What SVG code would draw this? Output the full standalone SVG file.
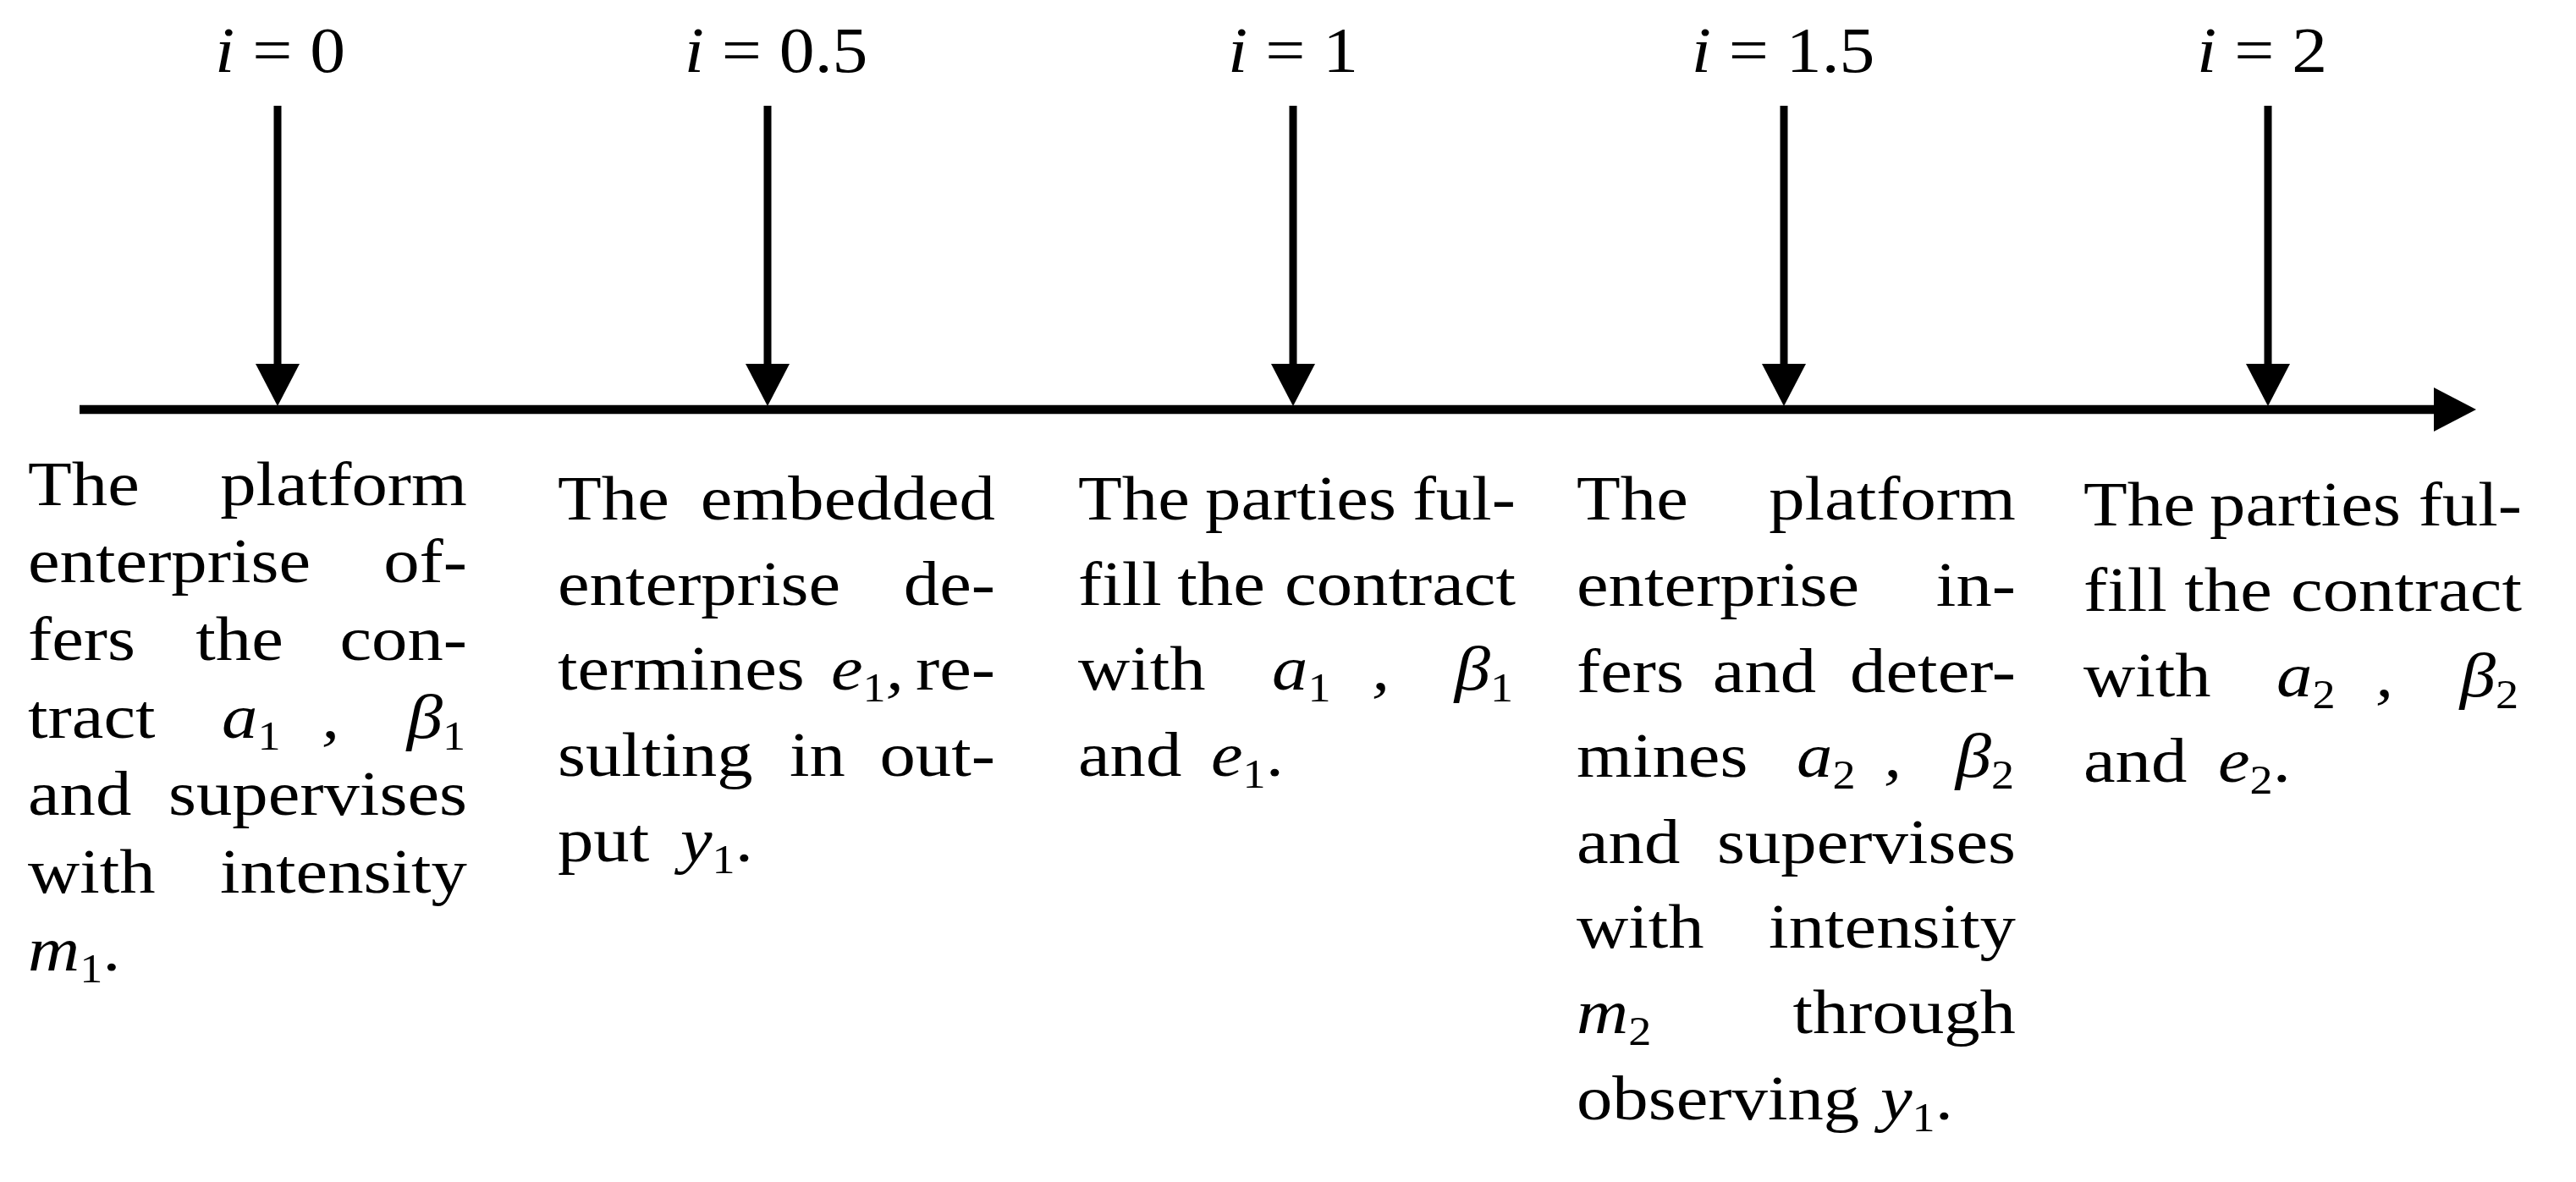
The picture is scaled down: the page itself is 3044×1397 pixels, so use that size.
<svg xmlns="http://www.w3.org/2000/svg" width="3044" height="1397" viewBox="0 0 3044 1397">
<style>
.w{font-family:"Liberation Serif","Times New Roman",serif;font-size:75px;fill:#000}
.lab{font-family:"Liberation Serif","Times New Roman",serif;font-size:76px;fill:#000;text-anchor:middle}
.e{text-anchor:end}
.m{text-anchor:middle}
.it{font-style:italic}
.sb{font-size:48px;font-style:normal}
.ln{stroke:#000;fill:none}
</style>
<defs>
<marker id="ah" viewBox="0 0 50 52" refX="0" refY="26" markerWidth="50" markerHeight="52" markerUnits="userSpaceOnUse" orient="auto">
<path d="M0,0 L50,26 L0,52 Z" fill="#000"/>
</marker>
</defs>
<rect width="3044" height="1397" fill="#fff"/>

<g id="connectors">
<line class="ln" x1="94" y1="484" x2="2876" y2="484" stroke-width="10.5" marker-end="url(#ah)"/>
<line class="ln" x1="328" y1="125" x2="328" y2="430" stroke-width="9" marker-end="url(#ah)"/>
<line class="ln" x1="907" y1="125" x2="907" y2="430" stroke-width="9" marker-end="url(#ah)"/>
<line class="ln" x1="1528" y1="125" x2="1528" y2="430" stroke-width="9" marker-end="url(#ah)"/>
<line class="ln" x1="2108" y1="125" x2="2108" y2="430" stroke-width="9" marker-end="url(#ah)"/>
<line class="ln" x1="2680" y1="125" x2="2680" y2="430" stroke-width="9" marker-end="url(#ah)"/>
</g>

<g id="node-i0">
<text class="lab" transform="translate(331 85) scale(1.1 1)"><tspan class="it">i</tspan> = 0</text>
<text class="w" transform="translate(33 597) scale(1.13 1)">The</text>
<text class="w e" transform="translate(552 597) scale(1.13 1)">platform</text>
<text class="w" transform="translate(33 688) scale(1.13 1)">enterprise</text>
<text class="w e" transform="translate(552 688) scale(1.13 1)">of-</text>
<text class="w" transform="translate(33 780) scale(1.13 1)">fers</text>
<text class="w m" transform="translate(283 780) scale(1.13 1)">the</text>
<text class="w e" transform="translate(552 780) scale(1.13 1)">con-</text>
<text class="w" transform="translate(33 872) scale(1.13 1)">tract</text>
<text class="w" transform="translate(262 872) scale(1.13 1)"><tspan class="it">a</tspan><tspan class="sb" dy="14">1</tspan></text>
<text class="w it" transform="translate(380 872) scale(1.13 1)">,</text>
<text class="w e" transform="translate(550 872) scale(1.13 1)"><tspan class="it">β</tspan><tspan class="sb" dy="14">1</tspan></text>
<text class="w" transform="translate(33 963) scale(1.13 1)">and</text>
<text class="w e" transform="translate(552 963) scale(1.13 1)">supervises</text>
<text class="w" transform="translate(33 1055) scale(1.13 1)">with</text>
<text class="w e" transform="translate(552 1055) scale(1.13 1)">intensity</text>
<text class="w" transform="translate(33 1147) scale(1.13 1)"><tspan class="it">m</tspan><tspan class="sb" dy="14">1</tspan><tspan dy="-14">.</tspan></text>
</g>

<g id="node-i05">
<text class="lab" transform="translate(917 85) scale(1.1 1)"><tspan class="it">i</tspan> = 0.5</text>
<text class="w" transform="translate(659 614) scale(1.13 1)">The</text>
<text class="w e" transform="translate(1176 614) scale(1.13 1)">embedded</text>
<text class="w" transform="translate(659 715) scale(1.13 1)">enterprise</text>
<text class="w e" transform="translate(1176 715) scale(1.13 1)">de-</text>
<text class="w" transform="translate(659 815) scale(1.13 1)">termines</text>
<text class="w" transform="translate(982 815) scale(1.13 1)"><tspan class="it">e</tspan><tspan class="sb" dy="14">1</tspan><tspan class="it" dy="-14">,</tspan></text>
<text class="w e" transform="translate(1176 815) scale(1.13 1)">re-</text>
<text class="w" transform="translate(659 917) scale(1.13 1)">sulting</text>
<text class="w m" transform="translate(966 917) scale(1.13 1)">in</text>
<text class="w e" transform="translate(1176 917) scale(1.13 1)">out-</text>
<text class="w" transform="translate(659 1018) scale(1.13 1)">put</text>
<text class="w" transform="translate(804 1018) scale(1.13 1)"><tspan class="it">y</tspan><tspan class="sb" dy="14">1</tspan><tspan dy="-14">.</tspan></text>
</g>

<g id="node-i1">
<text class="lab" transform="translate(1528 85) scale(1.1 1)"><tspan class="it">i</tspan> = 1</text>
<text class="w" transform="translate(1274 614) scale(1.13 1)">The</text>
<text class="w m" transform="translate(1537 614) scale(1.13 1)">parties</text>
<text class="w e" transform="translate(1791 614) scale(1.13 1)">ful-</text>
<text class="w" transform="translate(1274 715) scale(1.13 1)">fill</text>
<text class="w m" transform="translate(1443 715) scale(1.13 1)">the</text>
<text class="w e" transform="translate(1791 715) scale(1.13 1)">contract</text>
<text class="w" transform="translate(1274 815) scale(1.13 1)">with</text>
<text class="w" transform="translate(1503 815) scale(1.13 1)"><tspan class="it">a</tspan><tspan class="sb" dy="14">1</tspan></text>
<text class="w it" transform="translate(1621 815) scale(1.13 1)">,</text>
<text class="w e" transform="translate(1788 815) scale(1.13 1)"><tspan class="it">β</tspan><tspan class="sb" dy="14">1</tspan></text>
<text class="w" transform="translate(1274 917) scale(1.13 1)">and</text>
<text class="w" transform="translate(1431 917) scale(1.13 1)"><tspan class="it">e</tspan><tspan class="sb" dy="14">1</tspan><tspan dy="-14">.</tspan></text>
</g>

<g id="node-i15">
<text class="lab" transform="translate(2107 85) scale(1.1 1)"><tspan class="it">i</tspan> = 1.5</text>
<text class="w" transform="translate(1863 614) scale(1.13 1)">The</text>
<text class="w e" transform="translate(2382 614) scale(1.13 1)">platform</text>
<text class="w" transform="translate(1863 716) scale(1.13 1)">enterprise</text>
<text class="w e" transform="translate(2382 716) scale(1.13 1)">in-</text>
<text class="w" transform="translate(1863 818) scale(1.13 1)">fers</text>
<text class="w m" transform="translate(2085 818) scale(1.13 1)">and</text>
<text class="w e" transform="translate(2382 818) scale(1.13 1)">deter-</text>
<text class="w" transform="translate(1863 918) scale(1.13 1)">mines</text>
<text class="w" transform="translate(2123 918) scale(1.13 1)"><tspan class="it">a</tspan><tspan class="sb" dy="14">2</tspan></text>
<text class="w it" transform="translate(2226 918) scale(1.13 1)">,</text>
<text class="w e" transform="translate(2380 918) scale(1.13 1)"><tspan class="it">β</tspan><tspan class="sb" dy="14">2</tspan></text>
<text class="w" transform="translate(1863 1020) scale(1.13 1)">and</text>
<text class="w e" transform="translate(2382 1020) scale(1.13 1)">supervises</text>
<text class="w" transform="translate(1863 1120) scale(1.13 1)">with</text>
<text class="w e" transform="translate(2382 1120) scale(1.13 1)">intensity</text>
<text class="w" transform="translate(1863 1221) scale(1.13 1)"><tspan class="it">m</tspan><tspan class="sb" dy="14">2</tspan></text>
<text class="w e" transform="translate(2382 1221) scale(1.13 1)">through</text>
<text class="w" transform="translate(1863 1323) scale(1.13 1)">observing</text>
<text class="w" transform="translate(2222 1323) scale(1.13 1)"><tspan class="it">y</tspan><tspan class="sb" dy="14">1</tspan><tspan dy="-14">.</tspan></text>
</g>

<g id="node-i2">
<text class="lab" transform="translate(2673 85) scale(1.1 1)"><tspan class="it">i</tspan> = 2</text>
<text class="w" transform="translate(2462 621) scale(1.13 1)">The</text>
<text class="w m" transform="translate(2724 621) scale(1.13 1)">parties</text>
<text class="w e" transform="translate(2980 621) scale(1.13 1)">ful-</text>
<text class="w" transform="translate(2462 722) scale(1.13 1)">fill</text>
<text class="w m" transform="translate(2633 722) scale(1.13 1)">the</text>
<text class="w e" transform="translate(2980 722) scale(1.13 1)">contract</text>
<text class="w" transform="translate(2462 823) scale(1.13 1)">with</text>
<text class="w" transform="translate(2690 823) scale(1.13 1)"><tspan class="it">a</tspan><tspan class="sb" dy="14">2</tspan></text>
<text class="w it" transform="translate(2807 823) scale(1.13 1)">,</text>
<text class="w e" transform="translate(2976 823) scale(1.13 1)"><tspan class="it">β</tspan><tspan class="sb" dy="14">2</tspan></text>
<text class="w" transform="translate(2462 924) scale(1.13 1)">and</text>
<text class="w" transform="translate(2621 924) scale(1.13 1)"><tspan class="it">e</tspan><tspan class="sb" dy="14">2</tspan><tspan dy="-14">.</tspan></text>
</g>
</svg>
